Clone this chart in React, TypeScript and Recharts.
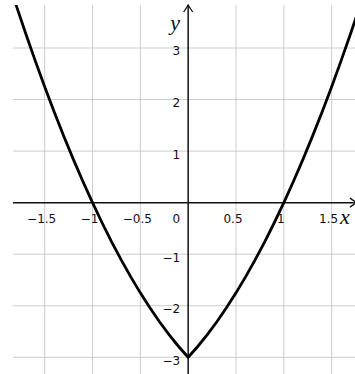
import React from "react";
import { LineChart, Line, XAxis, YAxis, ReferenceLine, ReferenceDot } from "recharts";

// Curve samples
const xs = [-1.9, -1.8, -1.7, -1.6, -1.5, -1.4, -1.3, -1.2, -1.1, -1.0, -0.9, -0.8, -0.7, -0.6, -0.5, -0.4, -0.3, -0.2, -0.1, 0,
  0.1, 0.2, 0.3, 0.4, 0.5, 0.6, 0.7, 0.8, 0.9, 1.0, 1.1, 1.2, 1.3, 1.4, 1.5, 1.6, 1.7, 1.8, 1.9];
const ys = [4.41, 3.84, 3.29, 2.76, 2.25, 1.76, 1.29, 0.84, 0.41, 0, -0.39, -0.76, -1.11, -1.44, -1.75, -2.04, -2.31, -2.56, -2.79, -3,
  -2.79, -2.56, -2.31, -2.04, -1.75, -1.44, -1.11, -0.76, -0.39, 0, 0.41, 0.84, 1.29, 1.76, 2.25, 2.76, 3.29, 3.84, 4.41];

const xTicks = [-1.5, -1, -0.5, 0, 0.5, 1, 1.5];
const xTickLabels = ["−1.5", "−1", "−0.5", "0", "0.5", "1", "1.5"];
const yTicks = [-3, -2, -1, 0, 1, 2, 3];
const yTickLabels = ["−3", "−2", "−1", "0", "1", "2", "3"];

const X_DOMAIN: [number, number] = [-1.831, 1.744];
const Y_DOMAIN: [number, number] = [-3.324, 3.834];
const X_ARROW = 1.764;

const data = xs.map((x, i) => ({ x, y: ys[i] }));

const FONT = "'DejaVu Sans', sans-serif";
const MATH = "'Liberation Serif', serif";

export default function App() {
  return (
    <div style={{ position: "absolute", left: 0, top: 0, width: 355, height: 374, background: "#fff" }}>
      <LineChart width={355} height={374} data={data} margin={{ top: 5, right: 0, bottom: 0, left: 13 }}>
        <XAxis type="number" dataKey="x" domain={X_DOMAIN} ticks={xTicks} allowDataOverflow
          axisLine={false} tickLine={false} tick={false} height={0} />
        <YAxis type="number" domain={Y_DOMAIN} ticks={yTicks} allowDataOverflow
          axisLine={false} tickLine={false} tick={false} width={0} />
        {xTicks.filter((t) => t !== 0).map((t) => (
          <ReferenceLine key={"gx" + t} x={t} stroke="#cccccc" strokeWidth={1} />
        ))}
        {yTicks.filter((t) => t !== 0).map((t) => (
          <ReferenceLine key={"gy" + t} y={t} stroke="#cccccc" strokeWidth={1} />
        ))}
        <ReferenceLine y={0} stroke="#111" strokeWidth={1.5} />
        <ReferenceLine x={0} stroke="#111" strokeWidth={1.5} />
        {xTicks.filter((t) => t !== 0).map((t) => (
          <ReferenceDot key={"xl" + t} x={t} y={0} r={0} ifOverflow="visible"
            shape={(p: any) => (
              <text x={p.cx - 3} y={p.cy + 20.5} textAnchor="middle" fontFamily={FONT} fontSize={12} fill="#111">
                {xTickLabels[xTicks.indexOf(t)]}
              </text>
            )} />
        ))}
        <ReferenceDot x={0} y={0} r={0} ifOverflow="visible"
          shape={(p: any) => (
            <text x={p.cx - 8} y={p.cy + 20.5} textAnchor="end" fontFamily={FONT} fontSize={12} fill="#111">
              {xTickLabels[xTicks.indexOf(0)]}
            </text>
          )} />
        {yTicks.filter((t) => t !== 0).map((t) => (
          <ReferenceDot key={"yl" + t} x={0} y={t} r={0} ifOverflow="visible"
            shape={(p: any) => (
              <text x={p.cx - 8} y={p.cy + 7.5} textAnchor="end" fontFamily={FONT} fontSize={12} fill="#111">
                {yTickLabels[yTicks.indexOf(t)]}
              </text>
            )} />
        ))}
        <ReferenceDot x={0} y={Y_DOMAIN[1]} r={0} ifOverflow="visible"
          shape={(p: any) => (
            <g>
              <path d={`M ${p.cx - 4.5} ${p.cy + 7} Q ${p.cx - 1.5} ${p.cy + 2.5} ${p.cx} ${p.cy} Q ${p.cx + 1.5} ${p.cy + 2.5} ${p.cx + 4.5} ${p.cy + 7}`}
                fill="none" stroke="#111" strokeWidth={1.3} />
              <text x={p.cx - 18} y={p.cy + 25} fontFamily={MATH} fontStyle="italic" fontSize={22} fill="#111">y</text>
            </g>
          )} />
        <ReferenceDot x={X_ARROW} y={0} r={0} ifOverflow="visible"
          shape={(p: any) => (
            <g>
              <path d={`M ${p.cx - 7} ${p.cy - 4.5} Q ${p.cx - 2.5} ${p.cy - 1.5} ${p.cx} ${p.cy} Q ${p.cx - 2.5} ${p.cy + 1.5} ${p.cx - 7} ${p.cy + 4.5}`}
                fill="none" stroke="#111" strokeWidth={1.3} />
              <text x={p.cx - 17} y={p.cy + 21.5} fontFamily={MATH} fontStyle="italic" fontSize={22} fill="#111">x</text>
            </g>
          )} />
        <Line type="linear" dataKey="y" stroke="#000" strokeWidth={2.8} dot={false} activeDot={false} isAnimationActive={false} />
      </LineChart>
    </div>
  );
}
